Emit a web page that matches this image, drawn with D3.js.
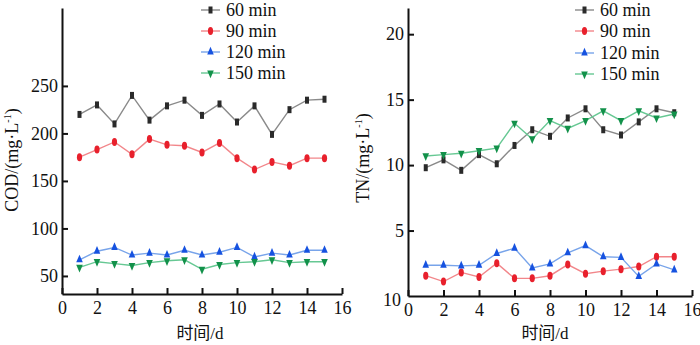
<!DOCTYPE html>
<html>
<head>
<meta charset="utf-8">
<script src="https://cdn.jsdelivr.net/npm/d3@7"></script>
<style>
  body { margin: 0; background: #fff; }
  svg text { font-family: "Liberation Serif", "Noto Sans CJK SC", serif; fill: #111; }
  .axis path, .axis line { stroke: #111; stroke-width: 2px; }
  .axis text { font-size: 18px; }
</style>
</head>
<body>
<div id="chart"></div>
<script>
var days = [1, 2, 3, 4, 5, 6, 7, 8, 9, 10, 11, 12, 13, 14, 15];
var seriesNames = ["60 min", "90 min", "120 min", "150 min"];

// COD (mg/L)
var cod60  = [220, 230, 210, 240, 214, 229, 235, 219, 231, 212, 229, 199, 225, 235, 236];
var cod90  = [175, 183, 191, 178, 194, 188, 187, 180, 190, 174, 162, 170, 166, 174, 174];
var cod120 = [67, 76, 80, 72, 74, 72, 77, 72, 75, 80, 70, 74, 72, 77, 77];
var cod150 = [59, 65, 63, 61, 64, 66, 67, 57, 62, 64, 65, 67, 64, 65, 65];

// TN (mg/L)
var tn60  = [9.8, 10.4, 9.6, 10.8, 10.1, 11.5, 12.7, 12.2, 13.6, 14.3, 12.7, 12.3, 13.3, 14.3, 14.0];
var tn90  = [1.55, 1.1, 1.8, 1.45, 2.5, 1.35, 1.35, 1.55, 2.4, 1.7, 1.9, 2.05, 2.25, 3.0, 3.0];
var tn120 = [2.35, 2.35, 2.3, 2.35, 3.25, 3.65, 2.15, 2.45, 3.3, 3.85, 3.0, 2.95, 1.5, 2.45, 2.0];
var tn150 = [10.7, 10.8, 10.9, 11.1, 11.3, 13.2, 12.0, 13.4, 12.8, 13.4, 14.15, 13.4, 14.15, 13.6, 13.9];

var xTicks = [0, 2, 4, 6, 8, 10, 12, 14, 16];
var codTicks = [50, 100, 150, 200, 250];
var tnTicks = [0, 5, 10, 15, 20];
var tnTickLabels = ["10", "5", "10", "15", "20"];

var lineColors = ["#8a8a8a", "#f2868a", "#78a4ea", "#66c893"];
var markColors = ["#2a2a2a", "#e8202c", "#1652e0", "#12914a"];
var serif = "'Liberation Serif', 'Noto Sans CJK SC', serif";

var svg = d3.select("#chart").append("svg")
    .attr("width", 700)
    .attr("height", 345)
    .attr("font-family", serif);

function marker(g, i, cx, cy) {
  if (i === 0) {
    g.append("rect").attr("x", cx - 2).attr("y", cy - 3.5)
      .attr("width", 4).attr("height", 7).attr("fill", markColors[0]);
  } else if (i === 1) {
    g.append("ellipse").attr("cx", cx).attr("cy", cy)
      .attr("rx", 2.6).attr("ry", 4).attr("fill", markColors[1]);
  } else {
    var tri = d3.symbol().type(d3.symbolTriangle).size(26);
    g.append("path").attr("d", tri)
      .attr("transform", "translate(" + cx + "," + cy + ")" + (i === 3 ? " rotate(180)" : "") + " scale(0.85,1.15)")
      .attr("fill", markColors[i]);
  }
}

function drawPanel(opt) {
  var x = d3.scaleLinear().domain([0, 16]).range([opt.left, opt.right]);
  var y = d3.scaleLinear().domain(opt.yDomain).range([opt.bottom, opt.top]);

  svg.append("g")
      .attr("class", "axis")
      .attr("transform", "translate(0," + opt.bottom + ")")
      .call(d3.axisBottom(x).tickValues(xTicks).tickSizeInner(-6).tickSizeOuter(0).tickPadding(7))
      .attr("font-family", serif)
    .selectAll("text").attr("dy", "0.72em");

  var yAxis = d3.axisLeft(y).tickValues(opt.yTicks).tickSizeInner(-6).tickSizeOuter(0).tickPadding(4);
  if (opt.yLabels) yAxis.tickFormat(function(d, i) { return opt.yLabels[i]; });
  var ya = svg.append("g")
      .attr("class", "axis")
      .attr("transform", "translate(" + opt.left + ",0)")
      .call(yAxis)
      .attr("font-family", serif);
  if (opt.yLabels) {
    var zero = ya.selectAll(".tick").filter(function(d) { return d === 0; });
    zero.select("text").attr("x", -7).attr("dy", "0.55em");
    zero.select("line").remove();
  }

  var line = d3.line()
      .x(function(d, i) { return x(days[i]); })
      .y(function(d) { return y(d); });

  opt.data.forEach(function(vals, si) {
    svg.append("path")
        .datum(vals)
        .attr("fill", "none")
        .attr("stroke", lineColors[si])
        .attr("stroke-width", 1.4)
        .attr("d", line);
    var g = svg.append("g");
    vals.forEach(function(v, i) { marker(g, si, x(days[i]), y(v)); });
  });

  svg.append("text")
      .attr("x", (opt.left + opt.right) / 2 + opt.xTitleShift)
      .attr("y", 339)
      .attr("text-anchor", "middle")
      .style("font-size", "17px")
      .text("时间/d");

  var yl = svg.append("text")
      .attr("transform", "translate(" + opt.yTitleX + "," + opt.yTitleY + ") rotate(-90)")
      .attr("text-anchor", "middle")
      .style("font-size", "18px");
  yl.append("tspan").text(opt.yTitle + "/(mg·L");
  yl.append("tspan").attr("dy", -7).style("font-size", "10px").text("-1");
  yl.append("tspan").attr("dy", 7).text(")");

  // legend
  seriesNames.forEach(function(name, i) {
    var ly = opt.legendY[i];
    var g = svg.append("g");
    g.append("line")
        .attr("x1", opt.legendX).attr("x2", opt.legendX + 19)
        .attr("y1", ly).attr("y2", ly)
        .attr("stroke", lineColors[i]).attr("stroke-width", 1.4);
    marker(g, i, opt.legendX + 9.5, ly);
    g.append("text")
        .attr("x", opt.legendX + 25)
        .attr("y", ly)
        .attr("dy", "0.35em")
        .style("font-size", "18px")
        .text(name);
  });
}

drawPanel({
  left: 62, right: 342, top: 8, bottom: 294,
  yDomain: [31, 332], yTicks: codTicks,
  data: [cod60, cod90, cod120, cod150],
  yTitle: "COD", yTitleX: 18, yTitleY: 160, xTitleShift: -2,
  legendX: 201, legendY: [10, 31, 52, 73]
});

drawPanel({
  left: 408, right: 692, top: 8, bottom: 296,
  yDomain: [0, 22], yTicks: tnTicks, yLabels: tnTickLabels,
  data: [tn60, tn90, tn120, tn150],
  yTitle: "TN", yTitleX: 369, yTitleY: 158, xTitleShift: -5,
  legendX: 575, legendY: [10, 31, 53, 74]
});
</script>
</body>
</html>
